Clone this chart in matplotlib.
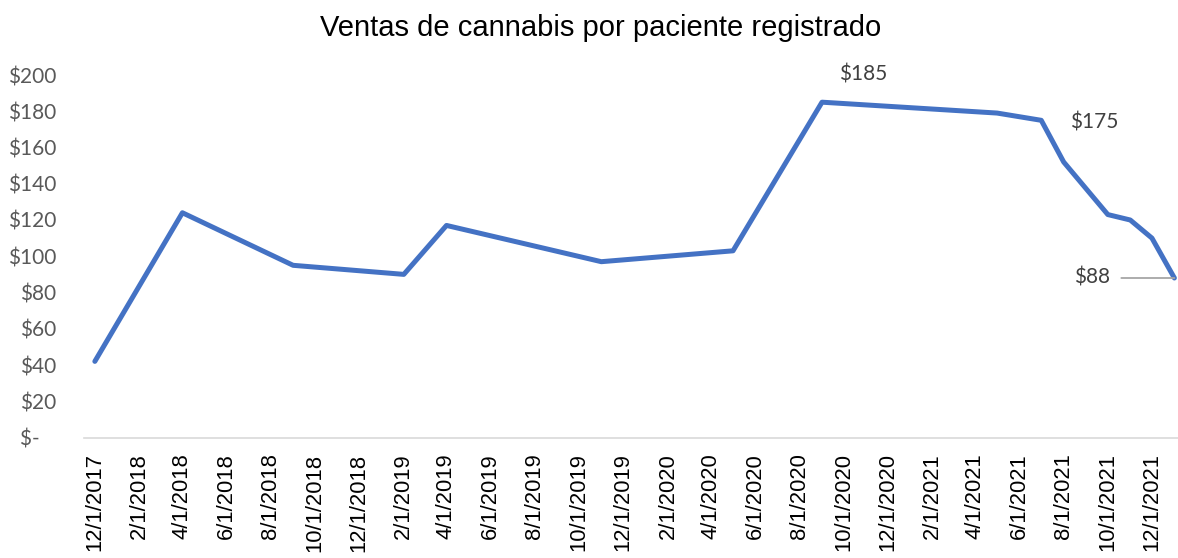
import matplotlib
matplotlib.use("Agg")
import matplotlib.pyplot as plt
import matplotlib.dates as mdates
import pandas as pd

# datos
fechas = ["2017-12-01", "2018-04-01", "2018-09-01", "2019-02-01", "2019-04-01",
          "2019-11-01", "2020-05-01", "2020-09-01", "2021-05-01", "2021-07-01",
          "2021-08-01", "2021-10-01", "2021-11-01", "2021-12-01", "2022-01-01"]
ventas = [42, 124, 95, 90, 117, 97, 103, 185, 179, 175, 152, 123, 120, 110, 88]

y_ticks = [0, 20, 40, 60, 80, 100, 120, 140, 160, 180, 200]
y_labels = ["$-   "] + ["$%d" % v for v in y_ticks[1:]]

titulo = "Ventas de cannabis por paciente registrado"

fechas = pd.to_datetime(fechas)
x_ticks = pd.date_range("2017-12-01", "2021-12-01", freq="2MS")
x_labels = [f"{d.month}/{d.day}/{d.year}" for d in x_ticks]

W, H = 1178, 558
fig = plt.figure(figsize=(W / 100, H / 100), dpi=100)
ax = fig.add_axes([84 / W, 1 - 437.5 / H, (1178 - 84) / W, (437.5 - 75) / H])

ax.plot(fechas, ventas, color="#4472C4", lw=3.6, solid_capstyle="round",
        solid_joinstyle="round", clip_on=False)

ax.set_ylim(0, 200)
ax.set_xlim(pd.Timestamp("2017-11-16"), pd.Timestamp("2022-01-06"))

for s in ["top", "right", "left"]:
    ax.spines[s].set_visible(False)
ax.spines["bottom"].set_color("#D9D9D9")
ax.spines["bottom"].set_linewidth(1.2)

ax.set_yticks(y_ticks)
ax.set_yticklabels(y_labels, fontfamily="Lato", fontsize=15, color="#595959")
ax.tick_params(axis="y", length=0, pad=20)

ax.set_xticks(x_ticks)
ax.set_xticklabels(x_labels, rotation=90, fontfamily="Liberation Sans",
                   fontsize=15.8, color="#000000", va="top", ha="center")
ax.tick_params(axis="x", length=0, pad=11.5)

fig.text(601 / W, 1 - 36 / H, titulo, ha="center", va="baseline",
         fontfamily="Liberation Sans", fontsize=21, color="#000000")

# etiquetas de datos
etq = dict(fontfamily="Lato", fontsize=15, color="#404040",
           textcoords="offset points", va="center")
ax.annotate("$185", (fechas[7], ventas[7]), xytext=(29.5, 20), ha="center", **etq)
ax.annotate("$175", (fechas[9], ventas[9]), xytext=(37.8, -1.4), ha="center", **etq)
ax.annotate("$88", (fechas[-1], ventas[-1]), xytext=(-46, 0), ha="right",
            arrowprops=dict(arrowstyle="-", color="#A6A6A6", lw=1.3,
                            shrinkA=5.8, shrinkB=0), annotation_clip=False, **etq)

fig.savefig("out.png", dpi=100)
